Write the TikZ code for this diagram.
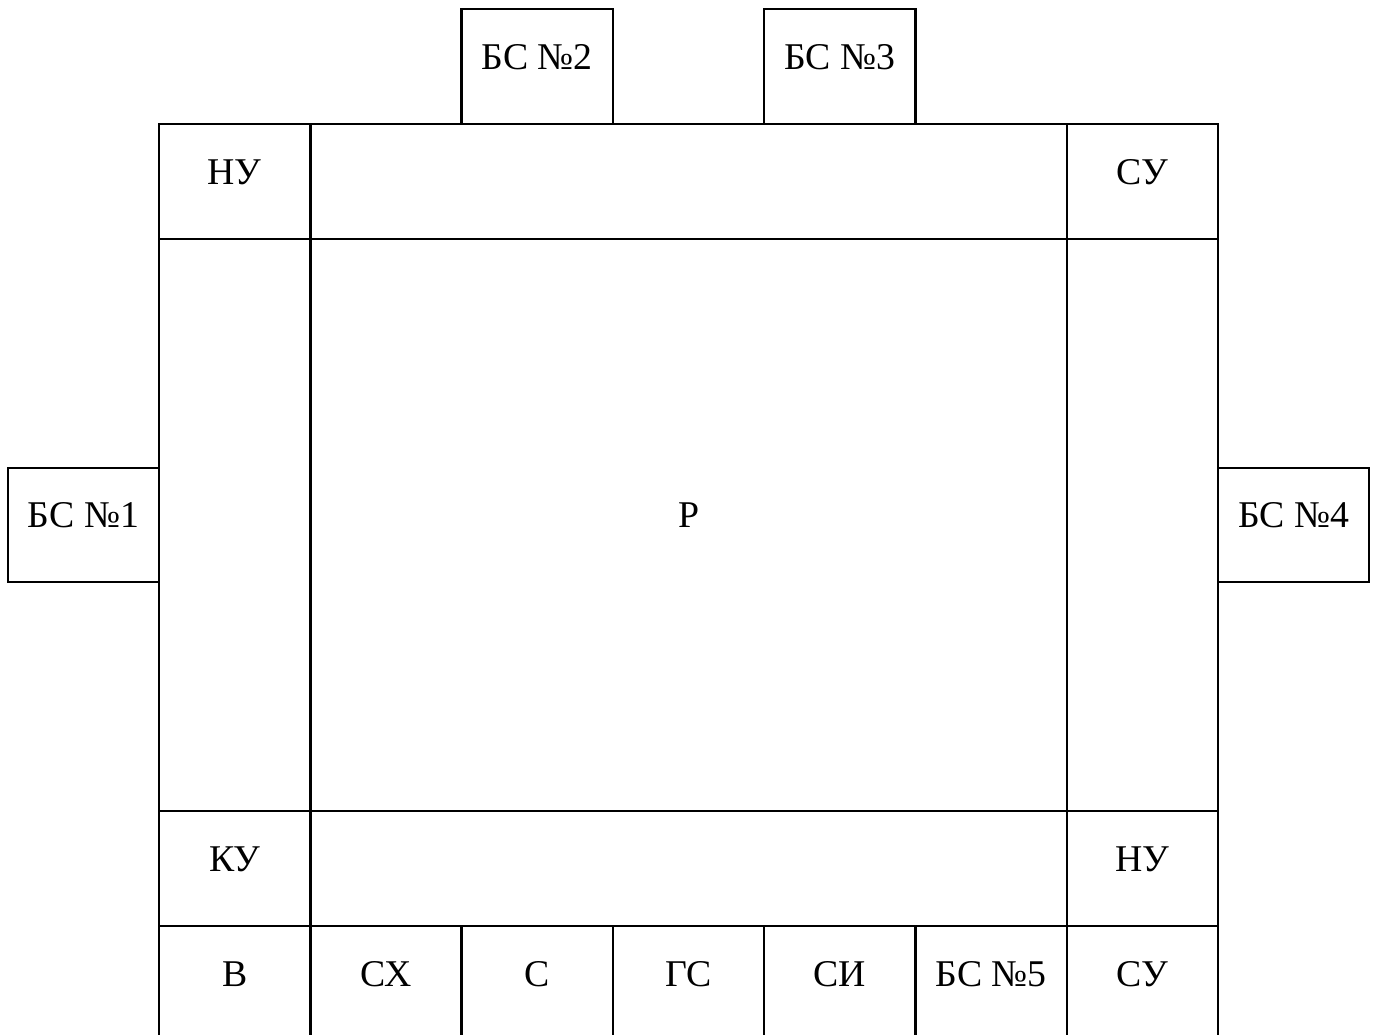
\documentclass[tikz,border=0pt]{standalone}
\usepackage{fontspec}
\setmainfont{Liberation Serif}
\tikzset{
  cella/.style={draw, line width=0.5mm, inner sep=0pt, text height=3mm, text depth=2mm,
    font=\fontsize{21.5}{26}\selectfont},
}
\begin{document}
\begin{tikzpicture}[x=0.2mm, y=-0.2mm]
			\clip (0,0) rectangle (1374,1034);
			% Fascia superiore
			\node[cella, minimum width=30.26mm, minimum height=23mm] (nu1) at (234.6,181.5) {НУ};
			\node[cella, minimum width=151.34mm, minimum height=23mm] (sopra) at (688.5,181.5) {};
			\node[cella, minimum width=30.26mm, minimum height=23mm] (su1) at (1142.4,181.5) {СУ};
			
			% Parte centrale
			\node[cella, minimum width=30.26mm, minimum height=114.4mm] (sx) at (234.6,525) {};
			\node[cella, minimum width=151.34mm, minimum height=114.4mm] (r) at (688.5,525) {Р};
			\node[cella, minimum width=30.26mm, minimum height=114.4mm] (dx) at (1142.4,525) {};
			
			% Fascia inferiore
			\node[cella, minimum width=30.26mm, minimum height=23mm] (ku) at (234.6,868.5) {КУ};
			\node[cella, minimum width=151.34mm, minimum height=23mm] (sotto) at (688.5,868.5) {};
			\node[cella, minimum width=30.26mm, minimum height=23mm] (nu2) at (1142.4,868.5) {НУ};
			
			% Riga in basso
			\foreach \t [count=\i] in {В, СХ, С, ГС, СИ, БС №5, СУ}
				\node[cella, minimum width=30.26mm, minimum height=23mm] (b\i) at ({159+151.3*(\i-0.5)},983.5) {\t};
			
			% Blocchi BS esterni
			\node[cella, minimum width=30.2mm, minimum height=22.8mm] (bs1) at (83.5,525) {БС №1};
			\node[cella, minimum width=30.26mm, minimum height=23mm] (bs2) at (537.25,66.5) {БС №2};
			\node[cella, minimum width=30.26mm, minimum height=23mm] (bs3) at (839.75,66.5) {БС №3};
			\node[cella, minimum width=30.2mm, minimum height=22.8mm] (bs4) at (1293.5,525) {БС №4};
		\end{tikzpicture}
\end{document}
